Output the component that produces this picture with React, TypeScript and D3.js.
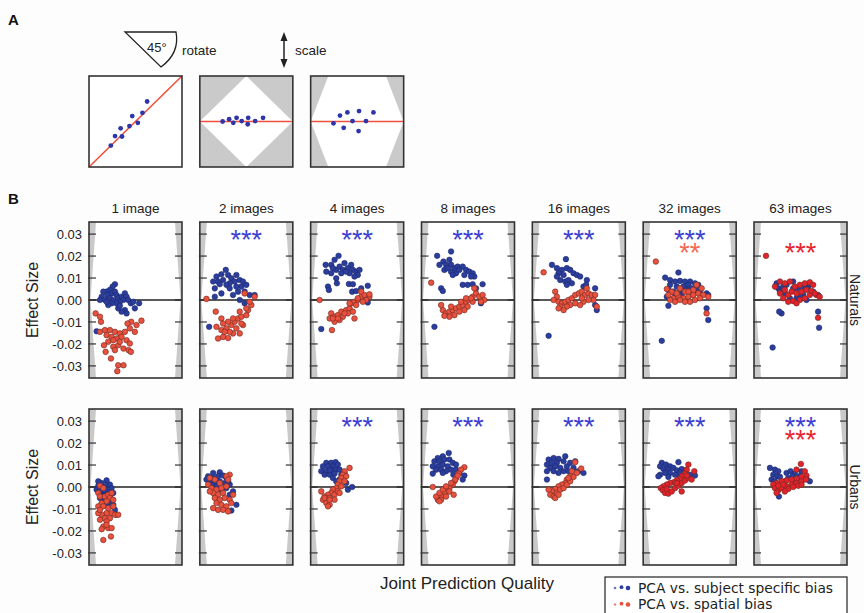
import React from 'react';
import * as d3 from 'd3';

const W = 864;
const H = 613;

const columnTitles = ['1 image', '2 images', '4 images', '8 images', '16 images', '32 images', '63 images'];
const rowNames = ['Naturals', 'Urbans'];
// effect size, in thousandths
const yTicks = [-30, -20, -10, 0, 10, 20, 30];

// number of significance stars per column
const naturalsSubjectStars = [0, 3, 3, 3, 3, 3, 0];
const naturalsSpatialStars = [0, 0, 0, 0, 0, 2, 3];
const urbansSubjectStars = [0, 0, 3, 3, 3, 3, 3];
const urbansSpatialStars = [0, 0, 0, 0, 0, 0, 3];

// points: [joint prediction quality (0-100 inside panel), effect size x 1000]
const naturalsSubject: [number, number][][] = [
  [[27.9,7.2],[25.4,6.1],[22.5,4.6],[18.9,3.8],[15.4,3.8],[24.3,3.0],[27.9,3.8],[29.6,2.3],[19.6,2.3],[13.6,1.5],[11.8,0],[17.1,0],[22.5,0.8],[26.1,0],[31.4,0.8],[35,1.5],[38.6,3.0],[40.4,1.5],[36.8,0],[33.2,-0.8],[29.6,-1.5],[24.3,-1.5],[20.7,-2.3],[42.1,0],[45,-1.5],[47.5,-0.8],[49.3,-3.8],[53.9,-1.5],[38.6,-4.6],[40.4,-6.1],[35,-5.3],[31.4,-3.8],[8.2,-14.2],[33.2,-2.6],[18.9,-0.8]],
  [[27.9,13.7],[23.2,11.7],[17.9,10.7],[14.3,8.4],[19.6,8.4],[25,9.1],[30.4,11.4],[33.9,9.9],[39.3,11.4],[37.5,8.4],[32.1,7.6],[42.9,9.1],[46.4,8.4],[44.6,6.1],[50,6.9],[48.2,3.8],[53.6,2.3],[58.9,2.3],[41.1,3.8],[35.7,2.3],[42.9,0],[48.2,-1.5],[16.1,5.3],[23.2,3.0],[16.1,1.5],[10,-12.2],[28.6,6.9],[21.4,7.2],[39.3,6.1],[32.1,5.3]],
  [[30,20.1],[25.7,18.3],[22.1,16],[16.1,16],[16.8,12.9],[22.1,12.2],[27.5,13.7],[31.1,15.2],[36.4,16.8],[34.6,13.7],[40,14.5],[43.6,16],[45.4,13.7],[48.9,12.9],[52.5,13.7],[50.7,11.4],[47.1,10.7],[41.8,12.2],[27.5,9.9],[28.2,7.6],[18.6,6.1],[19.6,4.6],[41.1,7.3],[45.4,7.2],[44.6,3.8],[48.9,4.1],[54.3,5.3],[61.4,6.5],[59.6,0.8],[61.4,-1.1],[11.4,-13.2],[38.2,12.9],[32.9,12.2],[23.9,14.5]],
  [[31.8,22.1],[16.8,20.1],[23.6,17.5],[30,18.3],[26.4,16],[31.8,16],[35.4,14.5],[38.9,15.2],[44.3,15.2],[47.9,13.7],[51.4,12.9],[55,12.2],[56.8,10.7],[53.2,10.7],[46.1,11.4],[37.1,12.2],[31.8,12.9],[19.3,16],[24.6,13.7],[21.1,5.3],[22.9,4.1],[44.3,6.9],[49.6,6.9],[55,7.2],[58.6,5.3],[65.7,7.2],[63.9,-1.5],[13.9,-12.2],[33.6,11.4],[40.7,13.7],[28.2,14.5]],
  [[36.1,18.6],[21.1,16],[26.4,14.5],[31.8,13.7],[37.1,14.5],[40.7,13.7],[44.3,12.2],[47.9,11.4],[51.4,10.7],[33.6,11.4],[28.2,12.2],[30,9.1],[35.4,8.4],[38.9,9.1],[42.5,7.6],[55,6.1],[57.9,6.9],[58.6,9.1],[17.5,-16.3],[67.5,-2.3],[69.3,-4.6],[37.1,6.9],[26.4,10.7],[67.5,5.3]],
  [[37.9,12.5],[23.6,10.2],[28.9,9.1],[34.3,8.4],[39.6,8.7],[45,8.4],[50.4,8.4],[55.7,7.6],[59.3,6.9],[28.9,6.9],[36.1,6.1],[43.2,6.1],[48.6,6.9],[52.1,5.3],[46.8,4.6],[39.6,3.8],[32.5,3.8],[27.1,4.6],[25.4,1.5],[34.3,1.5],[41.4,2.3],[53.9,3.0],[61.1,3.8],[68.2,3.0],[70,2.3],[27.1,-2.6],[20,-18.6],[68.2,-3.8],[70,-9.1],[57.5,5.3],[50.4,2.3]],
  [[20,-21.6],[24.3,7.6],[26.1,5.3],[31.4,6.1],[35,6.9],[42.1,5.3],[47.5,4.6],[52.9,5.3],[58.2,6.1],[63.6,3.8],[68.9,2.3],[52.9,2.3],[45.7,0.8],[38.6,0.8],[33.2,3.0],[27.9,3.8],[29.6,-6.1],[27.1,-5.3],[68.9,-5.3],[70,-12.6],[42.1,8.4],[60,7.2],[49.3,2.3],[56.4,0]],
];

const naturalsSpatial: [number, number][][] = [
  [[7.1,-6.1],[12.9,-9.9],[11.8,-7.6],[17.1,-13.7],[22.5,-13.7],[27.9,-14.5],[33.2,-15.2],[38.6,-14.5],[43.9,-12.9],[49.3,-14.5],[51.1,-11.4],[56.4,-9.4],[45.4,-9.9],[41.4,-10.7],[18.9,-16],[24.3,-16.8],[29.6,-17.5],[35,-16.8],[40.4,-18.3],[43.9,-19.8],[37.1,-22.1],[42.5,-22.8],[45,-23.6],[31.4,-20.6],[26.1,-21.3],[20.7,-19],[16.1,-20.6],[17.9,-23.6],[23.6,-26.6],[31.4,-29.7],[37.1,-29.7],[30.4,-32.4],[27.9,-22.8],[33.2,-19],[11.8,-14.5],[26.1,-18.3]],
  [[7.1,0.5],[17.1,-5.3],[23.2,-8.4],[17.9,-12.2],[23.2,-13.7],[28.6,-12.9],[33.9,-11.4],[37.5,-9.9],[41.1,-8.4],[44.6,-7.6],[50,-6.9],[51.8,-4.6],[55.4,-2.3],[58.9,1.5],[53.6,-0.8],[50,-3.8],[42.9,-5.3],[35.7,-8.4],[30.4,-9.9],[25,-10.7],[19.6,-17.5],[25,-16.8],[30.4,-17.3],[35.7,-15.2],[42.9,-15.2],[46.4,-11.4],[32.1,-14.5],[26.8,-14.5],[39.3,-12.9],[48.2,3.0],[44.6,-10.7]],
  [[9.6,0],[22.1,-6.1],[20.4,-8.4],[25.7,-7.6],[29.3,-6.9],[32.9,-5.3],[38.2,-4.6],[41.8,-3.8],[43.6,-1.5],[47.1,-0.8],[50.7,0],[54.3,1.5],[57.9,2.3],[63.2,1.5],[59.6,0],[56.1,-0.8],[48.9,-2.3],[45.4,-5.3],[40,-6.1],[34.6,-7.6],[31.1,-9.1],[25.7,-9.9],[23.9,-8.4],[47.1,-8.4],[22.9,-13.7],[36.4,-6.1],[29.3,-8.4],[50.7,0.8],[54.3,3.8],[63.2,2.6],[41.8,-1.5]],
  [[10.4,7.9],[21.1,-2.3],[22.9,-4.6],[26.4,-6.1],[30,-5.3],[33.6,-4.6],[37.1,-3.8],[40.7,-3.0],[44.3,-2.3],[47.9,-0.8],[51.4,0],[55,1.5],[58.6,3.0],[62.1,1.5],[65.7,2.3],[67.5,0],[63.9,-0.8],[55,-0.8],[49.6,-3.0],[46.1,-4.6],[40.7,-5.3],[35.4,-6.9],[30,-7.6],[24.6,-7.2],[56.8,5.3],[53.2,0.8],[47.9,0.8],[31.8,-3.0],[42.5,-0.8]],
  [[12.1,12.6],[24.6,3.8],[26.4,1.5],[22.9,0],[28.2,-0.8],[31.8,-1.5],[30,-3.0],[35.4,-0.8],[38.9,0],[42.5,0.8],[46.1,2.3],[50,3.0],[53.2,3.8],[56.8,2.3],[60.4,3.0],[63.9,2.3],[67.5,2.3],[65.7,0],[60.4,0],[55,-0.8],[51.4,-2.3],[46.1,-1.5],[40.7,-2.3],[37.1,-3.0],[33.6,-4.6],[28.2,-3.8],[53.2,0.8],[58.6,5.3],[69.3,-3.0]],
  [[13.6,17.5],[25.4,5.0],[30.7,3.8],[27.1,2.3],[32.5,0.8],[37.9,1.5],[43.2,0.8],[48.6,1.5],[53.9,2.3],[59.3,3.0],[64.6,2.3],[70,1.5],[61.1,0.8],[55.7,0],[50.4,-0.8],[45,-0.8],[39.6,0],[34.3,-0.8],[28.9,0],[57.5,6.9],[62.9,5.3],[45,3.8],[39.6,5.3],[68.2,-6.1],[53.9,4.6],[48.6,3.8],[36.1,3.0]],
  [[12.9,20.1],[27.9,8.4],[33.2,7.6],[38.6,8.4],[43.9,6.1],[49.3,6.9],[54.6,7.6],[60,8.1],[63.6,6.9],[67.1,2.3],[60,2.3],[54.6,0.8],[49.3,0],[42.1,-0.5],[36.8,-0.8],[31.4,0.8],[27.9,3.0],[33.2,4.6],[40.4,3.8],[45.7,3.0],[51.1,3.8],[56.4,4.6],[61.8,4.1],[65.4,3.0],[70.7,1.5],[45.7,-1.5],[36.8,2.3],[22.5,6.1],[68.9,-8.1]],
];

const urbansSubject: [number, number][][] = [
  [[18.9,3.0],[13.6,1.8],[10,0.6],[8.2,-1.2],[11.8,-0.9],[15.4,0],[18.9,0.6],[22.5,1.1],[24.3,-0.5],[20.7,-2.0],[17.1,-2.7],[13.6,-3.5],[11.8,-5.0],[15.4,-5.8],[18.9,-5.0],[22.5,-4.3],[24.3,-5.8],[26.1,-8.1],[22.5,-8.8],[17.1,-8.1],[27.9,-10.4],[11.8,-2.0],[26.1,-2.7],[29.6,-12.6],[20.7,-6.5],[10,2.6],[17.1,-1.2],[16.1,-4.3]],
  [[14.3,6.4],[21.4,6.7],[8.9,4.9],[14.3,4.1],[19.6,4.9],[25,5.2],[28.6,4.1],[21.4,2.6],[16.1,1.8],[10.7,2.6],[7.1,3.4],[26.8,1.8],[32.1,1.1],[28.6,-0.5],[23.2,-1.2],[35.7,-2.0],[32.1,-3.5],[39.3,-8.1],[33.9,-10.7],[17.9,0.3],[12.5,1.1],[30.4,2.6]],
  [[16.8,11.0],[22.1,11.0],[26.8,11.3],[13.2,9.4],[18.6,9.4],[23.9,9.4],[29.3,10.2],[11.4,7.2],[16.8,7.2],[22.1,7.9],[27.5,7.9],[31.1,7.9],[15,5.6],[20.4,5.6],[25.7,6.1],[32.9,5.6],[36.4,6.4],[23.9,4.1],[31.1,3.4],[40,-1.2],[44.6,0],[38.2,1.8],[27.5,2.6],[20.4,7.6]],
  [[29.3,15.5],[22.9,14.0],[17.5,13.2],[13.9,11.7],[19.3,11.7],[24.6,12.5],[30,12.5],[33.6,11.0],[37.1,10.2],[12.1,9.4],[17.5,9.4],[22.9,10.2],[28.2,9.4],[15.7,7.9],[21.1,7.9],[26.4,7.2],[31.8,7.9],[37.1,7.9],[40.7,6.4],[46.1,5.2],[12.1,6.1],[22.9,6.4],[34.3,5.6],[44.3,3.4]],
  [[17.5,12.5],[22.9,13.2],[28.2,12.8],[35.4,14.0],[33.6,11.7],[26.4,11.0],[21.1,11.0],[15.7,10.2],[19.3,8.7],[24.6,9.4],[30,8.7],[37.1,9.4],[40.7,11.0],[46.1,11.7],[44.3,8.7],[49.6,7.2],[55,6.4],[15.7,7.2],[22.9,7.2],[33.6,7.2],[15.7,3.4],[38.9,7.2],[28.2,6.4]],
  [[20,11.0],[24.6,10.2],[28.9,9.4],[37.9,11.3],[18.2,9.4],[21.8,8.2],[27.1,7.9],[32.5,8.7],[36.1,7.6],[41.4,8.2],[46.1,7.6],[39.6,6.4],[34.3,5.6],[28.9,6.4],[23.6,6.4],[18.2,5.6],[50.4,5.6],[55.7,5.2],[43.9,4.1],[27.1,4.6],[39.6,4.4],[16.4,4.9]],
  [[17.1,8.7],[22.5,7.9],[26.1,7.2],[20.7,5.6],[25,4.9],[27.9,4.6],[18.9,3.4],[22.5,2.6],[35,6.4],[39.3,7.2],[43.9,6.1],[41.4,4.9],[36.8,4.1],[49.3,5.0],[51.1,7.2],[47.5,3.4],[52.9,3.4],[56.4,3.7],[60,2.6],[26.8,-4.3],[33.2,2.6],[42.1,2.6]],
];

const urbansSpatial: [number, number][][] = [
  [[11.8,0.6],[15.4,-0.5],[10,-2.7],[11.8,-4.3],[17.1,-4.3],[20.7,-3.5],[24.3,-2.7],[22.5,-5.0],[18.9,-6.5],[13.6,-7.3],[10,-8.8],[15.4,-8.8],[20.7,-9.6],[26.1,-8.8],[24.3,-11.9],[18.9,-11.9],[13.6,-12.6],[10,-11.9],[17.1,-14.2],[22.5,-14.2],[27.9,-12.6],[31.4,-12.6],[11.8,-14.9],[18.9,-15.7],[15.4,-18.0],[20.7,-18.7],[13.6,-19.2],[24.3,-18.7],[23.6,-22.5],[15.4,-24.1],[18.9,-17.2],[11.8,-10.4],[26.1,-5.8]],
  [[8.9,1.1],[12.5,-0.5],[17.9,-1.2],[23.2,-0.5],[28.6,0.3],[32.1,5.6],[28.6,4.9],[30.4,3.4],[25,-2.7],[19.6,-3.5],[14.3,-2.7],[10.7,-2.0],[16.1,-5.0],[21.4,-5.8],[26.8,-5.0],[32.1,-5.8],[35.7,-3.5],[17.9,-7.3],[23.2,-8.1],[28.6,-8.8],[25,-10.4],[19.6,-10.4],[14.3,-9.6],[30.4,-11.1],[33.9,-7.3],[21.4,1.8],[16.1,3.4],[10.7,4.1]],
  [[41.8,8.7],[36.4,7.2],[34.6,5.6],[32.9,4.1],[31.1,2.6],[29.3,1.1],[27.5,-0.5],[23.9,-1.2],[22.1,-2.7],[18.6,-3.5],[15,-4.3],[13.2,-5.8],[16.8,-7.3],[20.4,-8.1],[18.6,-8.8],[15,-5.0],[20.4,-5.0],[25.7,-3.5],[29.3,-2.0],[32.9,0.3],[36.4,2.6],[11.4,-2.0],[25.7,-5.8],[38.2,4.9],[31.1,-2.7],[20.4,-5.8]],
  [[46.1,9.0],[42.5,7.9],[40,6.1],[37.1,4.1],[35.4,2.6],[33.6,1.1],[30,-0.5],[28.2,-2.0],[24.6,-2.7],[21.1,-4.3],[17.5,-5.8],[15.7,-4.3],[19.3,-2.7],[22.9,-1.2],[26.4,0.3],[31.8,1.8],[36.4,3.4],[38.9,5.2],[12.1,0],[34.6,-3.5],[21.1,-5.8],[26.4,-4.3],[30,-2.0],[19.3,-6.5]],
  [[46.1,11.3],[52.5,8.4],[42.5,7.2],[40.7,4.9],[37.1,3.4],[35.4,1.8],[31.8,1.1],[28.2,0.3],[24.6,-0.9],[21.1,-2.0],[19.3,-3.5],[22.9,-4.3],[26.4,-2.7],[30,-1.2],[33.6,-0.5],[37.1,1.1],[40.7,2.6],[44.3,4.6],[47.9,6.4],[17.5,-1.2],[24.6,-5.0],[38.9,4.1],[28.2,-3.5]],
  [[48.6,10.2],[55,7.2],[46.8,7.9],[45,6.1],[41.4,4.9],[39.6,3.7],[36.1,3.0],[32.5,2.1],[28.9,1.8],[25.4,1.1],[21.8,0.3],[18.9,-0.5],[21.1,-1.5],[23.6,-2.7],[27.1,-3.0],[30.7,-2.0],[34.3,-0.5],[37.9,0.6],[41.4,1.8],[45,3.0],[48.6,4.1],[52.1,3.4],[41.4,-2.0],[25.4,-0.9],[36.1,1.8],[46.8,5.2]],
  [[50.4,10.5],[45.7,7.9],[54.6,7.2],[56.4,5.2],[51.1,4.6],[45.7,3.7],[40.4,3.4],[35,3.0],[29.6,2.6],[24.3,1.8],[20.7,1.1],[22.5,-0.5],[26.1,-1.5],[24.3,-2.7],[29.6,-0.5],[35,0.3],[40.4,1.1],[45.7,1.8],[51.1,2.6],[55.7,3.4],[31.4,1.1],[36.8,-0.9],[42.1,0],[47.5,0.6],[51.1,1.1],[26.1,0.6],[33.2,-2.0]],
];

// panel A: points in box coordinates (-1..1)
const diagonalPoints: [number, number][] = [[-0.53,-0.53],[-0.44,-0.32],[-0.29,-0.33],[-0.32,-0.15],[-0.13,-0.10],[-0.07,0.12],[0.05,-0.03],[0.15,0.19],[0.25,0.44]];
const rotatedPoints: [number, number][] = [[-0.51,0],[-0.37,0.05],[-0.28,-0.03],[-0.21,0.08],[-0.10,0.01],[0.04,0.08],[0.03,-0.06],[0.19,0.01],[0.36,0.08]];
const scaledPoints: [number, number][] = [[-0.51,-0.04],[-0.37,0.13],[-0.21,0.2],[-0.29,-0.14],[-0.10,0.01],[0.04,0.23],[0.03,-0.21],[0.19,0.01],[0.35,0.2]];

const legendLabels = ['PCA vs. subject specific bias', 'PCA vs. spatial bias'];

const SANS = '"Liberation Sans", Arial, Helvetica, sans-serif';
const BLUE = '#2b3e9c';
const ORANGE_RED = '#e9503d';
const PURE_RED = '#e3232b';
const STAR_BLUE = '#3d3fd2';

const colX = d3.scaleBand<string>().domain(columnTitles).range([89, 847]).paddingInner(0.161);
const rowTop = [222, 409];
const panelH = 156;

// both star rows go into one text element (two lines)
const Stars: React.FC<{ x: number; yBlue: number; yRed: number; nBlue: number; nRed: number; redColor: string }> = ({
  x, yBlue, yRed, nBlue, nRed, redColor,
}) => {
  if (!nBlue && !nRed) return null;
  const off = 14.5;
  return (
    <text textAnchor="middle" fontFamily={SANS} fontSize={27}>
      {nBlue > 0 && (
        <tspan x={x} y={yBlue + off} fill={STAR_BLUE}>{'*'.repeat(nBlue)}</tspan>
      )}
      {nRed > 0 && (
        <tspan x={x} y={yRed + off} fill={redColor}>{'*'.repeat(nRed)}</tspan>
      )}
    </text>
  );
};

const Panel: React.FC<{
  col: number;
  row: number;
  subject: [number, number][];
  spatial: [number, number][];
  subjectStars: number;
  spatialStars: number;
}> = ({ col, row, subject, spatial, subjectStars, spatialStars }) => {
  const x0 = colX(columnTitles[col]) as number;
  const w = colX.bandwidth();
  const top = rowTop[row];
  const bottom = top + panelH;
  const x = d3.scaleLinear().domain([0, 100]).range([x0, x0 + w]);
  const y = d3.scaleLinear().domain([-35.5, 35.5]).range([bottom, top]);
  const mid = y(0);
  const pure = (row === 0 && col === 6) || (row === 1 && col >= 5);
  const redFill = pure ? PURE_RED : ORANGE_RED;
  const redStar = row === 0 && col === 5 ? '#f26a52' : '#e8232e';
  const wedge = 7;
  return (
    <g>
      <rect x={x0} y={top} width={w} height={panelH} fill="#fff" />
      <polygon
        points={`${x0},${top} ${x0 + wedge},${top} ${x0 + 1.5},${mid} ${x0 + wedge},${bottom} ${x0},${bottom}`}
        fill="#c9c9c9"
      />
      <polygon
        points={`${x0 + w},${top} ${x0 + w - wedge},${top} ${x0 + w - 1.5},${mid} ${x0 + w - wedge},${bottom} ${x0 + w},${bottom}`}
        fill="#c9c9c9"
      />
      {yTicks.map(t => (
        <g key={t}>
          <line x1={x0 - 1} x2={x0 + 7} y1={y(t)} y2={y(t)} stroke="#333" strokeWidth={1.2} />
          <line x1={x0 + w - 7} x2={x0 + w} y1={y(t)} y2={y(t)} stroke="#333" strokeWidth={1.2} />
        </g>
      ))}
      <line x1={x0} x2={x0 + w} y1={mid} y2={mid} stroke="#222" strokeWidth={1.5} />
      {subject.map((d, i) => (
        <circle key={'b' + i} cx={x(d[0])} cy={y(d[1])} r={2.8} fill={BLUE} stroke="#1a2566" strokeWidth={0.5} />
      ))}
      {spatial.map((d, i) => (
        <circle key={'r' + i} cx={x(d[0])} cy={y(d[1])} r={2.8} fill={redFill} stroke="#6e2a22" strokeWidth={0.6} />
      ))}
      <Stars x={x0 + w / 2} yBlue={y(30)} yRed={y(24)} nBlue={subjectStars} nRed={spatialStars} redColor={redStar} />
      <rect x={x0} y={top} width={w} height={panelH} fill="none" stroke="#333" strokeWidth={1.6} />
      {col === 0 &&
        yTicks.map(t => (
          <text key={'l' + t} x={82} y={y(t) + 4.6} textAnchor="end" fontFamily={SANS} fontSize={13} fill="#222">
            {(t / 1000).toFixed(2)}
          </text>
        ))}
    </g>
  );
};

const BoxA: React.FC<{ col: number; kind: number; pts: [number, number][] }> = ({ col, kind, pts }) => {
  const x0 = colX(columnTitles[col]) as number;
  const w = colX.bandwidth();
  const x = d3.scaleLinear().domain([-1, 1]).range([x0, x0 + w]);
  const y = d3.scaleLinear().domain([-1, 1]).range([167, 76]);
  const shape =
    kind === 1
      ? [[0, 1], [1, 0], [0, -1], [-1, 0]]
      : [[-0.62, 1], [0.62, 1], [1, 0], [0.62, -1], [-0.62, -1], [-1, 0]];
  return (
    <g>
      <rect x={x0} y={76} width={w} height={91} fill={kind === 0 ? '#fff' : '#cacaca'} />
      {kind > 0 && <polygon points={shape.map(p => `${x(p[0])},${y(p[1])}`).join(' ')} fill="#fff" />}
      {kind === 0 ? (
        <line x1={x(-1)} y1={y(-1)} x2={x(1)} y2={y(1)} stroke="#f0503c" strokeWidth={1.6} />
      ) : (
        <line x1={x(-1)} y1={y(0)} x2={x(1)} y2={y(0)} stroke="#f0503c" strokeWidth={1.6} />
      )}
      {pts.map((p, i) => (
        <circle key={i} cx={x(p[0])} cy={y(p[1])} r={2.4} fill="#2d35a8" />
      ))}
      <rect x={x0} y={76} width={w} height={91} fill="none" stroke="#333" strokeWidth={1.6} />
    </g>
  );
};

export default function App() {
  const subjects = [naturalsSubject, urbansSubject];
  const spatials = [naturalsSpatial, urbansSpatial];
  const subjStars = [naturalsSubjectStars, urbansSubjectStars];
  const spatStars = [naturalsSpatialStars, urbansSpatialStars];
  const legendColors = [BLUE, ORANGE_RED];
  const legendY = [588, 604.5];
  return (
    <div style={{ position: 'absolute', left: 0, top: 0 }}>
      <svg width={W} height={H} style={{ display: 'block', background: '#fdfdfd' }}>
        {/* panel A */}
        <text x={8} y={25} fontFamily={SANS} fontWeight="bold" fontSize={15} fill="#111">A</text>
        <path d="M125,32 L176,32 Q180,53 161,67 Z" fill="#fff" stroke="#222" strokeWidth={1.3} />
        <text x={147} y={52} fontFamily={SANS} fontSize={13} fill="#222">45°</text>
        <text x={182} y={55} fontFamily={SANS} fontSize={13.5} fill="#222">rotate</text>
        <line x1={284} x2={284} y1={38} y2={62} stroke="#222" strokeWidth={1.5} />
        <path d="M284,32 L280.5,41 L287.5,41 Z M284,68 L280.5,59 L287.5,59 Z" fill="#222" />
        <text x={295} y={55} fontFamily={SANS} fontSize={13.5} fill="#222">scale</text>
        <BoxA col={0} kind={0} pts={diagonalPoints} />
        <BoxA col={1} kind={1} pts={rotatedPoints} />
        <BoxA col={2} kind={2} pts={scaledPoints} />

        {/* panel B */}
        <text x={8} y={204} fontFamily={SANS} fontWeight="bold" fontSize={15} fill="#111">B</text>
        {columnTitles.map(t => (
          <text key={t} x={(colX(t) as number) + colX.bandwidth() / 2} y={213} textAnchor="middle" fontFamily={SANS} fontSize={13.5} fill="#222">
            {t}
          </text>
        ))}
        {[0, 1].map(row =>
          columnTitles.map((t, col) => (
            <Panel
              key={row + t}
              col={col}
              row={row}
              subject={subjects[row][col]}
              spatial={spatials[row][col]}
              subjectStars={subjStars[row][col]}
              spatialStars={spatStars[row][col]}
            />
          ))
        )}
        {rowNames.map((name, row) => {
          const cy = rowTop[row] + panelH / 2;
          return (
            <g key={name}>
              <text transform={`translate(38,${cy}) rotate(-90)`} textAnchor="middle" fontFamily={SANS} fontSize={16} fill="#222">
                Effect Size
              </text>
              <text transform={`translate(850,${cy}) rotate(90)`} textAnchor="middle" fontFamily={SANS} fontSize={14} fill="#222">
                {name}
              </text>
            </g>
          );
        })}
        <text x={467} y={589} textAnchor="middle" fontFamily={SANS} fontSize={17} fill="#222">
          Joint Prediction Quality
        </text>

        {/* legend */}
        <rect x={605} y={577} width={242} height={44} fill="#fff" stroke="#333" strokeWidth={1.3} />
        {legendLabels.map((label, k) => (
          <g key={label}>
            {[1.3, 1.9, 2.3].map((r, i) => (
              <circle key={i} cx={615 + i * 6.5} cy={legendY[k] - (i === 1 ? 0.8 : 0)} r={r} fill={legendColors[k]} opacity={i === 0 ? 0.7 : 1} />
            ))}
            <text x={638} y={legendY[k] + 4.8} fontFamily='"DejaVu Sans", sans-serif' fontSize={13.8} fill="#222">
              {label}
            </text>
          </g>
        ))}
      </svg>
    </div>
  );
}
